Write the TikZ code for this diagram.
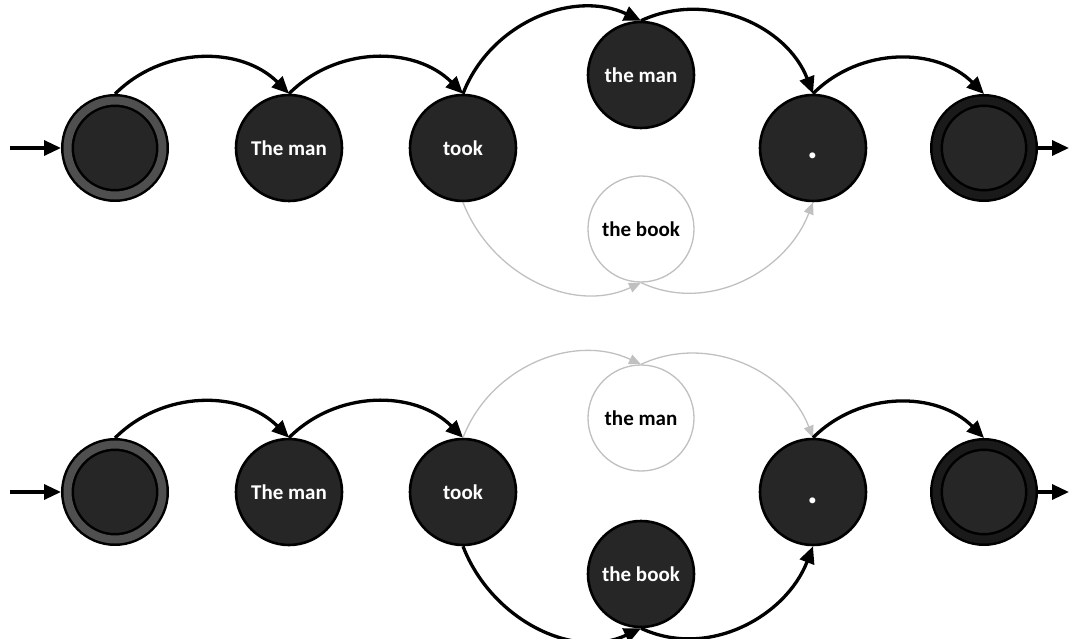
\documentclass[tikz,border=0pt]{standalone}
\usepackage{fontspec}
\newfontfamily\lblfont{Carlito}
\usetikzlibrary{arrows.meta}
\definecolor{nfill}{HTML}{262626}
\definecolor{ringgray}{HTML}{4F4F4F}
\definecolor{ringdark}{HTML}{1A1A1A}
\definecolor{offgray}{HTML}{C0C0C0}
\newcommand{\bigdot}{{\fontsize{40pt}{40pt}\selectfont\smash{\raisebox{-11pt}{.}}}}
\tikzset{
  st/.style={circle, minimum size=106pt, inner sep=0pt, fill=nfill, draw=black, line width=2.6pt, text=white, font=\lblfont\bfseries\fontsize{21pt}{25pt}\selectfont},
  offst/.style={circle, minimum size=106pt, inner sep=0pt, fill=white, draw=offgray, line width=1.3pt, text=black, font=\lblfont\bfseries\fontsize{21pt}{25pt}\selectfont},
  startst/.style={circle, minimum size=95pt, inner sep=0pt, fill=nfill, draw=black, line width=2.5pt, double=ringgray, double distance=8pt, outer sep=6.5pt},
  finalst/.style={startst, double=ringdark},
  onedge/.style={draw=black, line width=3.3pt, -{Triangle[length=17pt,width=15pt]}},
  offedge/.style={draw=offgray, line width=1.3pt, -{Triangle[length=12pt,width=10pt]}},
}
\begin{document}
\begin{tikzpicture}[x=1pt,y=-1pt]
\useasboundingbox (0,0) rectangle (1069,639);
% top row
\node[startst] (s1) at (115,148) {};
\node[st] (m1) at (289,148) {The man};
\node[st] (t1) at (463,148) {took};
\node[st] (a1) at (641,75) {the man};
\node[offst] (b1) at (641,229) {the book};
\node[st] (d1) at (813,148) {\bigdot};
\node[finalst] (f1) at (984,148) {};
\coordinate (in1) at (10,148);
\coordinate (out1) at (1069,148);
\draw[onedge] (in1) -- (s1.west);
\draw[onedge] (f1.east) -- (out1);
\draw[onedge] (s1.north) to[out=45,in=135] (m1.north);
\draw[onedge] (m1.north) to[out=45,in=135] (t1.north);
\draw[onedge] (t1.north) to[out=69,in=155] (a1.north);
\draw[onedge] (a1.north) to[out=25,in=111] (d1.north);
\draw[onedge] (d1.north) to[out=45,in=135] (f1.north);
\draw[offedge] (t1.south) to[out=-69,in=-155] (b1.south);
\draw[offedge] (b1.south) to[out=-25,in=-111] (d1.south);
% bottom row
\node[startst] (s2) at (115,492) {};
\node[st] (m2) at (289,492) {The man};
\node[st] (t2) at (463,492) {took};
\node[offst] (a2) at (641,418) {the man};
\node[st] (b2) at (641,574) {the book};
\node[st] (d2) at (813,492) {\bigdot};
\node[finalst] (f2) at (984,492) {};
\coordinate (in2) at (10,492);
\coordinate (out2) at (1069,492);
\draw[onedge] (in2) -- (s2.west);
\draw[onedge] (f2.east) -- (out2);
\draw[onedge] (s2.north) to[out=45,in=135] (m2.north);
\draw[onedge] (m2.north) to[out=45,in=135] (t2.north);
\draw[offedge] (t2.north) to[out=69,in=155] (a2.north);
\draw[offedge] (a2.north) to[out=25,in=111] (d2.north);
\draw[onedge] (d2.north) to[out=45,in=135] (f2.north);
\draw[onedge] (t2.south) to[out=-69,in=-155] (b2.south);
\draw[onedge] (b2.south) to[out=-25,in=-111] (d2.south);
\end{tikzpicture}
\end{document}
